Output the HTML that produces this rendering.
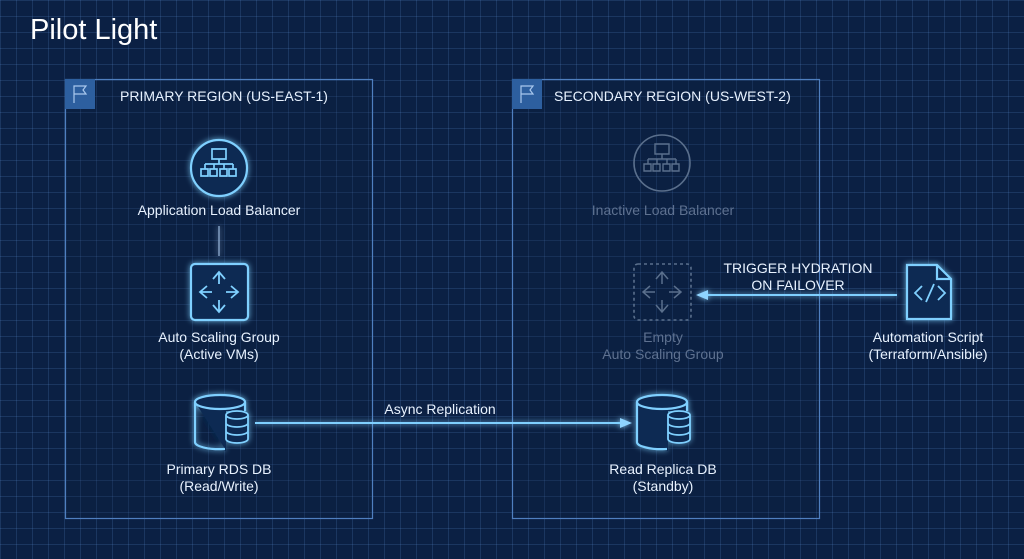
<!DOCTYPE html>
<html><head><style>
body{margin:0;width:1024px;height:559px;overflow:hidden;background:#0b2044;font-family:"Liberation Sans",sans-serif;}
.bg{position:absolute;left:0;top:0;width:1024px;height:559px;
background-image:linear-gradient(rgba(90,140,210,.2) 1px,transparent 1px),linear-gradient(90deg,rgba(90,140,210,.2) 1px,transparent 1px);
background-size:16px 16px;}
.t{position:absolute;color:#e8f2ff;font-size:14px;text-align:center;line-height:17px;white-space:nowrap;}
</style></head><body>
<div class="bg"></div>
<svg width="1024" height="559" style="position:absolute;left:0;top:0">
<defs><filter id="g" x="-50%" y="-50%" width="200%" height="200%"><feGaussianBlur stdDeviation="3" result="b"/><feMerge><feMergeNode in="b"/><feMergeNode in="SourceGraphic"/></feMerge></filter>
<marker id="a" markerUnits="userSpaceOnUse" markerWidth="12" markerHeight="12" refX="10" refY="6" orient="auto"><path d="M0,1L12,6L0,11z" fill="#8fd4ff"/></marker></defs>
<rect x="65.5" y="79.5" width="307" height="439" fill="rgba(10,30,60,.25)" stroke="#4f7fc0" stroke-width="1.2"/>
<rect x="512.5" y="79.5" width="307" height="439" fill="rgba(10,30,60,.25)" stroke="#4f7fc0" stroke-width="1.2"/>
<rect x="65" y="79" width="30" height="30" fill="#2d5f9f"/>
<rect x="512" y="79" width="30" height="30" fill="#2d5f9f"/>
<path d="M74 103V86h12l-3 4 3 4H74" fill="none" stroke="#a9c8ee" stroke-width="1.2"/>
<path d="M521 103V86h12l-3 4 3 4h-12" fill="none" stroke="#a9c8ee" stroke-width="1.2"/>
<g filter="url(#g)" stroke="#7fd0ff" fill="none" stroke-width="2.2">
<circle cx="219" cy="168" r="28" fill="#0e2a52"/>
<path d="M212 149h14v10h-14zM219 159v5M205 164h28M205 164v5M214 164v5M224 164v5M233 164v5M201 169h7v7h-7zM210 169h7v7h-7zM220 169h7v7h-7zM229 169h7v7h-7z" stroke-width="1.7"/>
<line x1="219" y1="226" x2="219" y2="256" stroke-width="1.2" stroke="#9ab8dd"/>
<rect x="191" y="264" width="57" height="56" rx="4" fill="#0e2a52"/>
<path d="M219 272v12M213 279l6-7 6 7M219 300v12M213 305l6 7 6-7M200 292h12M207 286l-7 6 7 6M238 292h-12M231 286l7 6-7 6" stroke-width="1.8"/>
<path d="M195 402v40a25 7 0 0 0 30 7M245 402v9M195 402h50v9h-19v40h-1l-30-7z" stroke="none" fill="#0e2a52"/>
<path d="M195 402v40a25 7 0 0 0 30 7M245 402v9"/>
<ellipse cx="220" cy="402" rx="25" ry="7" fill="#0e2a52"/>
<path d="M226 415a11 4 0 0 0 22 0a11 4 0 0 0-22 0v24a11 4 0 0 0 22 0v-24M226 423a11 4 0 0 0 22 0M226 431a11 4 0 0 0 22 0" fill="#0e2a52" stroke-width="1.8"/>
<path d="M637 402h50v9h-19v40h-1l-30-7z" stroke="none" fill="#0e2a52"/>
<path d="M637 402v40a25 7 0 0 0 30 7M687 402v9"/>
<ellipse cx="662" cy="402" rx="25" ry="7" fill="#0e2a52"/>
<path d="M668 415a11 4 0 0 0 22 0a11 4 0 0 0-22 0v24a11 4 0 0 0 22 0v-24M668 423a11 4 0 0 0 22 0M668 431a11 4 0 0 0 22 0" fill="#0e2a52" stroke-width="1.8"/>
<path d="M907 265h30l14 14v40h-44z" fill="#0e2a52"/>
<path d="M937 265v14h14"/>
<path d="M922 286l-7 7 7 7M938 286l7 7-7 7M934 284l-8 18" stroke-width="1.8"/>
<line x1="255" y1="423" x2="630" y2="423" marker-end="url(#a)" stroke-width="2"/>
<line x1="897" y1="295" x2="698" y2="295" marker-end="url(#a)" stroke-width="2"/>
</g>
<g stroke="#5a6f8c" fill="none" stroke-width="1.6">
<circle cx="662" cy="163" r="28"/>
<path d="M655 144h14v10h-14zM662 154v5M648 159h28M648 159v5M657 159v5M667 159v5M676 159v5M644 164h7v7h-7zM653 164h7v7h-7zM663 164h7v7h-7zM672 164h7v7h-7z" stroke-width="1.4"/>
<rect x="634" y="264" width="57" height="56" rx="4" stroke-dasharray="3 3"/>
<path d="M662 272v12M656 279l6-7 6 7M662 300v12M656 305l6 7 6-7M643 292h12M650 286l-7 6 7 6M681 292h-12M674 286l7 6-7 6" stroke-width="1.5"/>
</g>
</svg>
<div class="t" style="left:30px;top:13px;font-size:29px;line-height:34px;color:#fff">Pilot Light</div>
<div class="t" style="left:120px;top:88px;font-size:14px">PRIMARY REGION (US-EAST-1)</div>
<div class="t" style="left:554px;top:88px;font-size:14px">SECONDARY REGION (US-WEST-2)</div>
<div class="t" style="left:119px;top:202px;width:200px">Application Load Balancer</div>
<div class="t" style="left:119px;top:329px;width:200px">Auto Scaling Group<br>(Active VMs)</div>
<div class="t" style="left:119px;top:461px;width:200px">Primary RDS DB<br>(Read/Write)</div>
<div class="t" style="left:340px;top:401px;width:200px">Async Replication</div>
<div class="t" style="left:563px;top:202px;width:200px;color:#5e7190">Inactive Load Balancer</div>
<div class="t" style="left:563px;top:329px;width:200px;color:#5e7190">Empty<br>Auto Scaling Group</div>
<div class="t" style="left:563px;top:461px;width:200px">Read Replica DB<br>(Standby)</div>
<div class="t" style="left:698px;top:260px;width:200px">TRIGGER HYDRATION<br>ON FAILOVER</div>
<div class="t" style="left:828px;top:329px;width:200px">Automation Script<br>(Terraform/Ansible)</div>
</body></html>
